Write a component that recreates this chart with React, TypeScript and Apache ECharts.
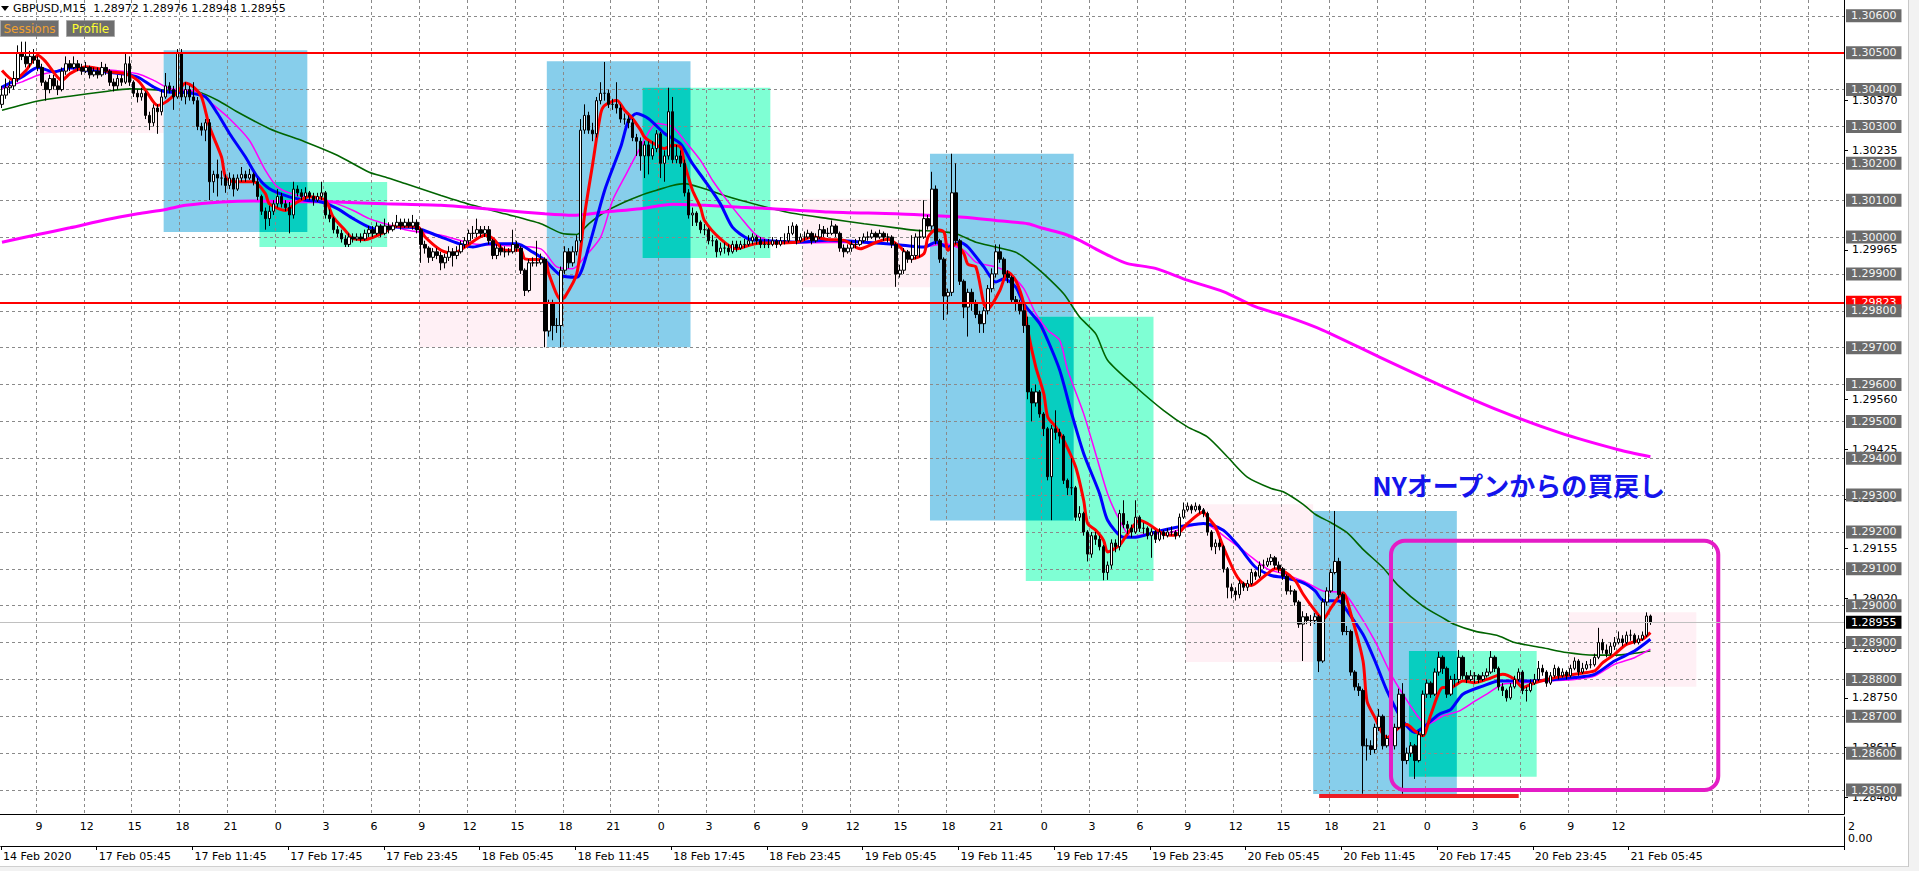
import React, { useEffect, useRef } from "react";
import * as echarts from "echarts";

// ---------- data ----------
const symbolName = "GBPUSD,M15";
const firstOpenPts = 130360;
// M15 bars, prices in points (1e-5)
const closePts = [
  130385,130405,130410,130430,130500,130490,130470,130490,130480,130460,
  130420,130400,130430,130410,130400,130450,130470,130460,130470,130460,
  130450,130460,130440,130450,130440,130460,130450,130420,130410,130430,
  130420,130470,130420,130390,130380,130390,130330,130310,130350,130340,
  130380,130410,130400,130380,130500,130380,130400,130380,130370,130300,
  130290,130310,130150,130170,130160,130160,130140,130160,130130,130160,
  130170,130160,130170,130150,130110,130070,130050,130070,130090,130110,
  130090,130080,130060,130130,130120,130110,130120,130110,130100,130110,
  130120,130060,130050,130020,130010,129995,129980,130000,129995,130000,
  129995,130010,130020,130010,130030,130010,130030,130020,130030,130040,
  130030,130040,130030,130040,130020,129980,129970,129945,129960,129950,
  129930,129945,129960,129950,129960,129980,129990,130010,130010,130020,
  130010,130020,129990,129950,129970,129960,129960,129960,129980,129970,
  129910,129855,129930,129930,129930,129940,129745,129820,129760,129760,
  129910,129960,129930,129960,129990,130290,130330,130290,130280,130370,
  130390,130390,130360,130360,130350,130320,130320,130310,130270,130260,
  130220,130250,130220,130240,130280,130200,130220,130340,130210,130220,
  130200,130120,130060,130065,130040,130020,130020,129990,129990,129960,
  129970,129970,129960,129980,129970,129980,129980,129990,130000,129990,
  129980,129980,129980,129990,129980,129990,129990,130010,130030,129990,
  130000,130000,130010,129990,130000,130020,130010,130010,130030,130010,
  129970,129960,129970,129980,129980,129990,130000,130000,130010,130000,
  130010,130000,130000,129980,129900,129910,129960,129940,129950,130000,
  130000,130050,130030,130130,129990,129940,129840,129850,130120,129990,
  129880,129810,129850,129820,129790,129765,129800,129860,129900,129960,
  129940,129900,129890,129830,129820,129800,129760,129580,129550,129580,
  129520,129480,129350,129480,129470,129460,129340,129320,129320,129240,
  129250,129200,129140,129190,129180,129160,129090,129110,129170,129160,
  129250,129220,129210,129200,129240,129210,129210,129190,129200,129180,
  129200,129190,129200,129200,129190,129240,129260,129270,129260,129270,
  129260,129250,129200,129160,129170,129160,129100,129050,129040,129030,
  129060,129050,129060,129090,129080,129110,129110,129120,129130,129110,
  129100,129080,129040,129040,129010,128950,128970,128960,128960,128970,
  128850,129010,129040,129090,129120,129030,128930,128930,128820,128780,
  128770,128620,128620,128610,128670,128700,128620,128640,128620,128670,
  128760,128580,128600,128620,128580,128650,128760,128790,128760,128820,
  128860,128830,128760,128800,128800,128860,128810,128800,128810,128810,
  128800,128810,128820,128860,128830,128780,128770,128750,128780,128800,
  128820,128770,128770,128790,128800,128830,128820,128790,128810,128830,
  128810,128820,128810,128830,128850,128820,128830,128840,128840,128860,
  128900,128880,128870,128890,128900,128910,128900,128920,128920,128900,
  128910,128920,128972,128955,
];
const highPts = [
  130410,130430,130425,130450,130520,130530,130530,130505,130510,130490,
  130470,130425,130440,130440,130425,130460,130490,130480,130490,130480,
  130470,130475,130465,130460,130460,130475,130470,130455,130430,130440,
  130440,130500,130490,130425,130400,130405,130395,130340,130360,130360,
  130400,130445,130420,130410,130510,130510,130420,130410,130420,130380,
  130310,130320,130320,130180,130210,130180,130170,130175,130170,130170,
  130190,130180,130185,130175,130160,130115,130080,130085,130100,130130,
  130120,130100,130095,130150,130140,130130,130135,130125,130120,130120,
  130150,130125,130075,130055,130030,130020,130005,130010,130010,130010,
  130010,130020,130030,130030,130040,130035,130050,130040,130040,130060,
  130050,130050,130050,130060,130048,130025,129990,129975,129970,129970,
  129960,129955,129975,129970,129975,129990,130000,130020,130030,130050,
  130030,130030,130030,129995,129980,129980,129975,129970,130020,129990,
  129975,129915,129940,129945,129990,129955,129945,129830,129830,129780,
  129920,129975,129970,129975,130005,130320,130360,130340,130310,130380,
  130420,130475,130400,130375,130420,130360,130335,130330,130320,130280,
  130270,130260,130260,130260,130290,130285,130235,130405,130380,130250,
  130235,130210,130130,130080,130070,130045,130035,130025,130005,129995,
  129985,129985,129980,129990,129990,129990,129995,130005,130010,130005,
  130000,129995,129995,130000,129995,130000,130010,130030,130040,130035,
  130010,130015,130020,130015,130010,130035,130030,130025,130045,130035,
  130015,129980,129980,129990,129995,130000,130010,130015,130020,130015,
  130020,130015,130010,130005,129985,129925,129970,129965,130005,130010,
  130020,130100,130060,130177,130140,129995,129945,129860,130226,130200,
  129995,129885,129860,129860,129830,129800,129810,129870,129915,129980,
  129980,129945,129910,129895,129840,129830,129820,129784,129590,129600,
  129585,129525,129485,129490,129530,129480,129465,129345,129400,129325,
  129270,129255,129205,129200,129200,129190,129165,129120,129180,129180,
  129260,129286,129230,129220,129286,129245,129225,129215,129210,129205,
  129210,129205,129210,129215,129205,129250,129280,129280,129275,129280,
  129275,129265,129255,129205,129180,129180,129165,129105,129060,129050,
  129070,129065,129070,129100,129095,129120,129125,129130,129140,129135,
  129120,129105,129085,129055,129045,129015,128985,128980,128975,128980,
  128975,129020,129050,129100,129257,129130,129035,128945,128935,128825,
  128790,128775,128640,128635,128680,128720,128705,128650,128645,128680,
  128775,128790,128615,128630,128625,128660,128770,128800,128795,128830,
  128875,128865,128835,128810,128815,128880,128865,128820,128825,128820,
  128815,128820,128830,128877,128865,128835,128790,128775,128790,128810,
  128830,128825,128780,128800,128815,128850,128840,128825,128820,128840,
  128835,128830,128825,128840,128860,128855,128845,128850,128855,128870,
  128940,128910,128895,128900,128915,128930,128920,128930,128935,128925,
  128920,128930,128982,128976,
];
const lowPts = [
  130350,130375,130390,130400,130420,130480,130460,130460,130470,130450,
  130410,130370,130390,130400,130385,130395,130440,130450,130455,130450,
  130440,130445,130430,130435,130430,130435,130440,130410,130395,130400,
  130410,130415,130410,130380,130365,130370,130320,130290,130300,130280,
  130330,130375,130390,130345,130375,130370,130360,130370,130360,130290,
  130275,130260,130100,130120,130110,130140,130120,130130,130110,130125,
  130150,130150,130155,130140,130100,130060,130020,130030,130060,130080,
  130080,130070,130010,130050,130110,130100,130100,130100,130085,130095,
  130100,130050,130040,130010,130000,129985,129973,129973,129985,129990,
  129985,129990,130000,130000,130005,130000,130005,130010,130015,130025,
  130020,130025,130025,130020,130010,129930,129955,129930,129935,129940,
  129910,129915,129935,129920,129940,129955,129970,129980,129995,130000,
  130000,130000,129980,129940,129940,129950,129945,129950,129955,129960,
  129900,129840,129850,129920,129920,129925,129701,129730,129720,129740,
  129701,129900,129915,129920,129950,129985,130280,130280,130260,130270,
  130360,130370,130350,130345,130335,130310,130305,130295,130260,130220,
  130180,130160,130170,130210,130230,130160,130150,130210,130200,130200,
  130190,130110,130050,130030,130030,130010,130005,129980,129975,129945,
  129950,129955,129950,129955,129960,129965,129970,129975,129980,129980,
  129970,129970,129970,129975,129970,129975,129980,129985,130005,129980,
  129985,129990,129995,129980,129985,129995,130000,130000,130005,130000,
  129960,129945,129955,129960,129970,129975,129985,129990,129995,129990,
  129995,129990,129985,129970,129865,129890,129900,129930,129930,129940,
  129945,129995,130020,130020,129980,129930,129775,129790,129840,129980,
  129870,129780,129730,129800,129780,129740,129740,129790,129850,129890,
  129930,129890,129875,129820,129800,129790,129740,129560,129500,129540,
  129510,129460,129340,129232,129450,129440,129330,129300,129300,129230,
  129230,129190,129120,129130,129165,129150,129069,129070,129100,129145,
  129150,129210,129195,129185,129195,129200,129195,129180,129130,129170,
  129175,129180,129185,129190,129180,129185,129235,129255,129250,129255,
  129250,129240,129190,129150,129140,129150,129090,129020,129020,129014,
  129020,129040,129040,129055,129070,129075,129100,129105,129110,129100,
  129090,129070,129030,129030,129000,128940,128850,128950,128945,128950,
  128820,128845,129000,129035,129085,129020,128920,128920,128810,128770,
  128755,128490,128580,128595,128600,128660,128610,128615,128605,128610,
  128665,128490,128570,128590,128530,128575,128645,128750,128750,128755,
  128810,128815,128750,128755,128780,128790,128800,128790,128795,128790,
  128790,128795,128805,128815,128820,128770,128755,128740,128745,128775,
  128795,128760,128740,128765,128785,128795,128810,128780,128785,128805,
  128800,128805,128800,128805,128825,128810,128815,128825,128830,128835,
  128855,128870,128860,128865,128880,128895,128890,128895,128905,128895,
  128895,128905,128915,128948,
];

// moving averages: [bar index, price]
const maFastRed = [
  [0,1.30452],[3,1.30425],[6,1.30452],[9,1.30493],[11,1.30475],[15,1.30425],[17,1.30443],[21,1.30462],[24,1.30457],[27,1.30448],
  [31,1.30443],[34,1.30425],[36,1.30398],[39,1.30357],[41,1.30366],[44,1.30394],[46,1.30418],[48,1.30407],[50,1.3038],[52,1.30299],
  [55,1.30217],[56,1.30163],[58,1.3015],[61,1.3015],[63,1.3015],[66,1.30118],[67,1.3009],[71,1.30072],[74,1.30095],[77,1.30109],
  [81,1.301],[83,1.30054],[86,1.30018],[88,1.29995],[91,1.29993],[96,1.30014],[98,1.30029],[104,1.30029],[106,1.3],[110,1.29964],
  [113,1.29955],[116,1.29973],[121,1.30005],[123,1.29996],[126,1.29964],[130,1.29964],[131,1.29941],[136,1.29937],[137,1.299],[140,1.2983],
  [141,1.29837],[144,1.299],[146,1.30063],[148,1.30199],[150,1.30335],[151,1.30357],[154,1.30371],[156,1.30344],[158,1.30321],[160,1.3029],
  [161,1.30271],[164,1.30249],[166,1.3024],[168,1.30249],[170,1.30244],[171,1.30199],[173,1.30127],[175,1.30081],[176,1.30045],[180,1.29995],
  [184,1.29968],[187,1.29977],[190,1.29984],[193,1.29984],[199,1.29986],[203,1.3],[207,1.29993],[211,1.29991],[215,1.29968],[219,1.29986],
  [222,1.29994],[225,1.29973],[228,1.29941],[231,1.29955],[232,1.3],[234,1.3002],[236,1.30014],[237,1.29964],[239,1.29982],[241,1.29955],
  [242,1.29926],[244,1.29919],[246,1.29819],[247,1.29805],[250,1.29855],[252,1.29905],[254,1.29882],[256,1.29819],[257,1.29747],[259,1.29648],
  [261,1.29576],[262,1.29512],[264,1.29485],[266,1.29449],[269,1.29376],[271,1.29286],[272,1.29223],[274,1.29205],[276,1.29177],[277,1.29146],
  [280,1.29164],[282,1.29195],[285,1.29232],[287,1.29223],[291,1.29195],[294,1.29191],[297,1.29223],[301,1.29254],[302,1.29241],[304,1.29214],
  [306,1.29159],[309,1.29087],[311,1.2906],[313,1.29055],[316,1.29078],[319,1.291],[321,1.29095],[324,1.29068],[326,1.29031],[329,1.28986],
  [331,1.28963],[333,1.28995],[336,1.29035],[338,1.28976],[341,1.2885],[342,1.28741],[344,1.28696],[346,1.28651],[347,1.28642],[350,1.28669],
  [352,1.28678],[354,1.2866],[356,1.28647],[358,1.28705],[361,1.28778],[363,1.28778],[366,1.28796],[369,1.28791],[372,1.288],[376,1.28814],
  [379,1.288],[381,1.28778],[384,1.28791],[387,1.288],[391,1.28809],[394,1.28814],[399,1.28823],[401,1.28845],[404,1.28868],[407,1.28895],
  [411,1.28909],[413,1.28927],
];
const maBlue = [
  [0,1.30407],[5,1.30434],[9,1.3046],[13,1.30448],[17,1.30459],[21,1.30452],[26,1.30448],[30,1.30443],[34,1.30434],[38,1.30407],
  [41,1.30394],[46,1.30392],[48,1.30389],[51,1.3038],[54,1.30335],[57,1.30281],[61,1.30217],[64,1.30163],[67,1.30131],[72,1.30109],
  [76,1.301],[80,1.30095],[84,1.30077],[88,1.3005],[92,1.30027],[96,1.30018],[98,1.30027],[104,1.30024],[110,1.3],[118,1.29973],
  [122,1.29982],[129,1.29982],[133,1.29959],[136,1.29937],[140,1.29896],[144,1.29891],[147,1.29973],[151,1.30127],[155,1.30244],[157,1.30317],
  [159,1.30335],[162,1.30321],[166,1.30281],[170,1.30253],[173,1.30199],[176,1.30154],[180,1.3009],[183,1.30027],[187,1.29995],[193,1.29989],
  [199,1.29986],[207,1.29991],[216,1.29986],[224,1.2998],[231,1.29973],[234,1.29986],[237,1.29973],[240,1.29986],[242,1.29973],[246,1.29919],
  [249,1.29878],[251,1.29887],[254,1.29864],[256,1.29819],[260,1.29765],[262,1.2972],[265,1.29639],[268,1.29521],[271,1.29413],[275,1.29304],
  [277,1.29232],[281,1.29186],[284,1.29186],[289,1.292],[294,1.29212],[297,1.29218],[301,1.29223],[306,1.29205],[310,1.29159],[314,1.29105],
  [318,1.29082],[321,1.29077],[326,1.29062],[329,1.2904],[331,1.29014],[335,1.29013],[337,1.28986],[341,1.28922],[344,1.2885],[347,1.28769],
  [351,1.28687],[354,1.28656],[356,1.28669],[360,1.28705],[363,1.28719],[366,1.2876],[371,1.28782],[375,1.28796],[379,1.28796],[384,1.28796],
  [389,1.288],[394,1.28805],[399,1.28814],[404,1.2885],[409,1.28877],[413,1.28909],
];
const maThinMagenta = [
  [0,1.30403],[5,1.30421],[9,1.30439],[13,1.30448],[17,1.30457],[26,1.30454],[34,1.30443],[38,1.30425],[42,1.30403],[49,1.30394],
  [52,1.30367],[57,1.30321],[62,1.30262],[66,1.30181],[69,1.30136],[74,1.30113],[80,1.30104],[84,1.3009],[88,1.30072],[92,1.3005],
  [96,1.30036],[101,1.3002],[110,1.30005],[118,1.29982],[126,1.29977],[135,1.29968],[139,1.29919],[143,1.29914],[146,1.29946],[150,1.3],
  [153,1.301],[156,1.30163],[160,1.30244],[164,1.30308],[168,1.30299],[171,1.30262],[175,1.30208],[178,1.30154],[181,1.30109],[185,1.30054],
  [189,1.30005],[193,1.29989],[199,1.29984],[216,1.29986],[231,1.29973],[236,1.29982],[241,1.29964],[244,1.29932],[249,1.29919],[252,1.29905],
  [256,1.2986],[259,1.29792],[262,1.29747],[265,1.2972],[267,1.29639],[271,1.29521],[274,1.29413],[277,1.29304],[280,1.29232],[283,1.29186],
  [287,1.29195],[291,1.29195],[297,1.29214],[301,1.29223],[307,1.29182],[312,1.29141],[317,1.291],[321,1.29087],[326,1.29067],[331,1.2904],
  [336,1.29035],[339,1.28995],[344,1.28904],[348,1.28814],[351,1.2876],[355,1.28696],[357,1.28678],[361,1.28701],[365,1.28714],[369,1.28741],
  [372,1.2876],[376,1.28787],[381,1.28791],[387,1.28796],[394,1.288],[399,1.28809],[404,1.28841],[409,1.28859],[413,1.28882],
];
const maGreen = [
  [0,1.30344],[9,1.30369],[17,1.30382],[26,1.30395],[32,1.30402],[41,1.30398],[49,1.30394],[54,1.30371],[59,1.30339],[67,1.30294],
  [76,1.30258],[84,1.30222],[92,1.30176],[96,1.30163],[101,1.30145],[110,1.30113],[118,1.30086],[126,1.30063],[135,1.30036],[140,1.30011],
  [144,1.30007],[147,1.30036],[151,1.30068],[156,1.30095],[160,1.30113],[164,1.30127],[168,1.3014],[171,1.30145],[176,1.30131],[181,1.30113],
  [185,1.301],[193,1.30077],[199,1.30063],[207,1.3005],[216,1.30036],[224,1.30025],[229,1.30018],[234,1.30016],[239,1.30009],[244,1.29986],
  [249,1.29973],[254,1.29959],[257,1.29937],[261,1.299],[266,1.29846],[270,1.29783],[274,1.29738],[277,1.29666],[284,1.29594],[291,1.2953],
  [297,1.29485],[302,1.29458],[307,1.29404],[312,1.29349],[318,1.29318],[321,1.29309],[326,1.29275],[329,1.29248],[333,1.29225],[337,1.29198],
  [341,1.29153],[346,1.29103],[350,1.29053],[356,1.28999],[361,1.28967],[364,1.28949],[369,1.28931],[375,1.28918],[379,1.289],[386,1.28886],
  [392,1.28873],[399,1.28866],[404,1.28866],[409,1.28871],[413,1.28877],
];
const maSlowMagenta = [
  [0,1.29986],[9,1.30007],[17,1.30025],[26,1.30047],[34,1.30063],[41,1.30075],[46,1.30086],[55,1.30095],[63,1.30098],[76,1.30096],
  [84,1.30095],[96,1.3009],[110,1.30086],[126,1.30072],[136,1.30063],[143,1.30059],[151,1.30068],[160,1.30077],[168,1.30089],[176,1.30086],
  [185,1.30081],[193,1.30077],[207,1.30068],[224,1.30063],[232,1.30059],[241,1.30054],[249,1.30045],[257,1.30036],[261,1.30023],[266,1.30009],
  [270,1.29991],[274,1.29968],[278,1.29946],[282,1.29928],[289,1.29915],[297,1.29883],[306,1.29852],[314,1.29811],[322,1.29784],[331,1.29747],
  [345,1.29675],[360,1.296],[375,1.2953],[390,1.2947],[405,1.29423],[413,1.29404],
];

// session rectangles: [first bar, last bar, high, low]
const tokyoSessions = [[9,40,1.305,1.30282],[105,136,1.30048,1.29701],[201,232,1.30104,1.29864],[297,328,1.29275,1.28847],[393,424,1.28982,1.2878]];
const londonSessions = [[41,76,1.30507,1.30014],[137,172,1.30477,1.29701],[233,268,1.30226,1.29231],[329,364,1.29257,1.28489]];
const newYorkSessions = [[65,96,1.30149,1.29973],[161,192,1.30405,1.29943],[257,288,1.29784,1.29067],[353,384,1.28877,1.28536]];

// horizontal levels and labels
const levelLines = [1.285,1.286,1.287,1.288,1.289,1.29,1.291,1.292,1.293,1.294,1.295,1.296,1.297,1.298,1.299,1.3,1.301,1.302,1.303,1.304,1.305,1.306];
const scaleTicks = [1.2848,1.28615,1.2875,1.28885,1.2902,1.29155,1.2929,1.29425,1.2956,1.29965,1.30235,1.3037];
const resistanceLevel = 1.305;
const supportLevel = 1.29823;
const lowLine = [[330, 1.28484], [380, 1.28484]];
const highlightBox = [348, 430, 1.29176, 1.285];
const noteText = "NYオープンからの買戻し";
const notePos = [380, 1.2933];

const dateLabels = ["14 Feb 2020","17 Feb 05:45","17 Feb 11:45","17 Feb 17:45","17 Feb 23:45","18 Feb 05:45","18 Feb 11:45","18 Feb 17:45","18 Feb 23:45","19 Feb 05:45","19 Feb 11:45","19 Feb 17:45","19 Feb 23:45","20 Feb 05:45","20 Feb 11:45","20 Feb 17:45","20 Feb 23:45","21 Feb 05:45"];
const hourLabels = [9,12,15,18,21,0,3,6,9,12,15,18,21,0,3,6,9,12,15,18,21,0,3,6,9,12,15,18,21,0,3,6,9,12];
const totalSlots = 462;
const Y_MIN = 1.28435;
const Y_MAX = 1.30643;

const FONT = "DejaVu Sans";

export default function App() {
  const ref = useRef<HTMLDivElement>(null);
  useEffect(() => {
    const el = ref.current;
    if (!el) return;
    const chart = echarts.init(el, null, { renderer: "svg" });

    const n = Math.min(closePts.length, highPts.length, lowPts.length);
    const candles: number[][] = [];
    for (let i = 0; i < n; i++) {
      const o = i === 0 ? firstOpenPts : closePts[i - 1];
      candles.push([o / 1e5, closePts[i] / 1e5, lowPts[i] / 1e5, highPts[i] / 1e5]);
    }
    const last = candles[candles.length - 1];
    const lastPrice = last[1];
    const fmt = (v: number) => v.toFixed(5);
    const xData = Array.from({ length: totalSlots }, (_, i) => String(i));

    const overlaps = londonSessions.map((b, k) => {
      const a = newYorkSessions[k];
      return [a[0], b[1], Math.min(a[2], b[2]), Math.max(a[3], b[3])];
    });
    const boxColors = ["#FFF0F5", "#87CEEB", "#7FFFD4", "#07CEC0"];
    const boxData = [
      ...tokyoSessions.map((s) => [...s, 0]),
      ...londonSessions.map((s) => [...s, 1]),
      ...newYorkSessions.map((s) => [...s, 2]),
      ...overlaps.map((s) => [...s, 3]),
    ];

    const dashed = { color: "#8a8a8a", type: [3, 3], width: 1 };
    const maLine = (data: number[][], color: string, width: number, z = 2) => ({
      type: "line",
      xAxisIndex: 0,
      yAxisIndex: 0,
      data,
      showSymbol: false,
      symbol: "none",
      smooth: 0.25,
      silent: true,
      z,
      lineStyle: { color, width },
    });
    const priceTag = (bg: string, text: string) => ({
      show: true, position: "end", distance: 2, formatter: text,
      color: "#fff", backgroundColor: bg, padding: [0, 5, 0, 5], lineHeight: 13,
      fontFamily: FONT, fontSize: 11,
    });

    const option: any = {
      animation: false,
      backgroundColor: "#ffffff",
      title: {
        text: `${symbolName}  ${fmt(last[0])} ${fmt(last[3])} ${fmt(last[2])} ${fmt(last[1])}`,
        left: 13,
        top: 3,
        padding: 0,
        textStyle: { fontFamily: FONT, fontSize: 11, fontWeight: "normal", color: "#000" },
      },
      grid: [
        { left: -4, top: 0, width: 1848, height: 814 },
        { left: -4, top: 817, width: 1848, height: 29 },
      ],
      xAxis: [
        {
          type: "category",
          gridIndex: 0,
          data: xData,
          boundaryGap: true,
          axisLine: { show: true, lineStyle: { color: "#000", width: 1 } },
          axisTick: { show: false },
          axisLabel: { show: false },
          splitLine: { show: true, interval: (i: number) => i % 12 === 9, lineStyle: dashed },
        },
        {
          type: "category",
          gridIndex: 1,
          position: "top",
          data: xData,
          boundaryGap: true,
          axisLine: { show: true, lineStyle: { color: "#000", width: 1 } },
          axisTick: { show: false },
          axisLabel: {
            show: true,
            inside: true,
            margin: 4,
            interval: (i: number) => i % 12 === 9 && (i - 9) / 12 < hourLabels.length,
            formatter: (_v: string, i: number) => String(hourLabels[(i - 9) / 12]),
            fontFamily: FONT,
            fontSize: 11,
            color: "#000",
          },
          splitLine: { show: false },
        },
        {
          type: "category",
          gridIndex: 1,
          position: "bottom",
          data: xData,
          boundaryGap: true,
          axisLine: { show: true, lineStyle: { color: "#000", width: 1 } },
          axisTick: {
            show: true,
            length: 4,
            interval: (i: number) => i % 24 === 0 && i / 24 < dateLabels.length,
            lineStyle: { color: "#000" },
          },
          axisLabel: {
            show: true,
            margin: 5,
            align: "left",
            interval: (i: number) => i % 24 === 0 && i / 24 < dateLabels.length,
            formatter: (_v: string, i: number) => dateLabels[i / 24],
            fontFamily: FONT,
            fontSize: 11,
            color: "#000",
          },
          splitLine: { show: false },
        },
      ],
      yAxis: [
        {
          type: "value",
          gridIndex: 0,
          position: "right",
          min: Y_MIN,
          max: Y_MAX,
          z: 0,
          axisLine: { show: true, onZero: false, lineStyle: { color: "#000", width: 1 } },
          axisTick: { show: false, customValues: levelLines },
          axisLabel: { show: false, customValues: levelLines },
          splitLine: { show: true, lineStyle: dashed },
        },
        {
          type: "value",
          gridIndex: 0,
          position: "right",
          min: Y_MIN,
          max: Y_MAX,
          z: 1,
          axisLine: { show: false },
          axisTick: { show: true, length: 4, customValues: scaleTicks, lineStyle: { color: "#000" } },
          axisLabel: {
            show: true,
            customValues: scaleTicks,
            formatter: (v: number) => fmt(v),
            margin: 8,
            fontFamily: FONT,
            fontSize: 11,
            color: "#000",
          },
          splitLine: { show: false },
        },
        {
          type: "value",
          gridIndex: 0,
          position: "right",
          min: Y_MIN,
          max: Y_MAX,
          z: 6,
          axisLine: { show: false },
          axisTick: { show: false, customValues: levelLines },
          axisLabel: {
            show: true,
            customValues: levelLines,
            formatter: (v: number) => fmt(v),
            margin: 2,
            fontFamily: FONT,
            fontSize: 11,
            lineHeight: 13,
            color: "#f4f4f4",
            backgroundColor: "#6b6b6b",
            padding: [0, 5, 0, 5],
          },
          splitLine: { show: false },
        },
        {
          type: "value",
          gridIndex: 1,
          position: "right",
          min: 0,
          max: 2,
          axisLine: { show: true, lineStyle: { color: "#000", width: 1 } },
          axisTick: { show: false },
          axisLabel: { show: false },
          splitLine: { show: false },
        },
      ],
      series: [
        {
          type: "custom",
          name: "sessions",
          xAxisIndex: 0,
          yAxisIndex: 0,
          z: -1,
          silent: true,
          data: boxData,
          encode: { x: [0, 1], y: [2, 3] },
          renderItem: (_p: any, api: any) => {
            const a = api.coord([api.value(0), api.value(2)]);
            const b = api.coord([api.value(1), api.value(3)]);
            const w = api.size([1, 0])[0];
            return {
              type: "rect",
              shape: { x: a[0] - w / 2, y: a[1], width: b[0] - a[0] + w, height: b[1] - a[1] },
              style: { fill: boxColors[api.value(4)] },
            };
          },
        },
        {
          type: "candlestick",
          name: symbolName,
          xAxisIndex: 0,
          yAxisIndex: 0,
          data: candles,
          barWidth: 3,
          silent: true,
          itemStyle: { color: "#ffffff", color0: "#000000", borderColor: "#000000", borderColor0: "#000000", borderWidth: 1 },
          markLine: {
            symbol: ["none", "none"],
            silent: true,
            animation: false,
            precision: 5,
            data: [
              { yAxis: resistanceLevel, lineStyle: { color: "#ff0000", width: 2, type: "solid" }, label: { show: false } },
              { yAxis: supportLevel, lineStyle: { color: "#ff0000", width: 2, type: "solid" }, label: priceTag("#ff0000", fmt(supportLevel)) },
              { yAxis: lastPrice, lineStyle: { color: "#c0c0c0", width: 1, type: "solid" }, label: priceTag("#000000", fmt(lastPrice)) },
            ],
          },
        },
        maLine(maGreen, "#006400", 1.6),
        maLine(maSlowMagenta, "#ff00ff", 3),
        maLine(maThinMagenta, "#ff00ff", 1.5),
        maLine(maBlue, "#0000ff", 3),
        maLine(maFastRed, "#ff0000", 3),
        {
          type: "line",
          xAxisIndex: 0,
          yAxisIndex: 0,
          data: lowLine,
          symbol: "none",
          silent: true,
          lineStyle: { color: "#ee1d24", width: 4 },
          z: 4,
        },
        {
          type: "custom",
          xAxisIndex: 0,
          yAxisIndex: 0,
          silent: true,
          z: 4,
          data: [highlightBox],
          encode: { x: [0, 1], y: [2, 3] },
          renderItem: (_p: any, api: any) => {
            const a = api.coord([api.value(0), api.value(2)]);
            const b = api.coord([api.value(1), api.value(3)]);
            return {
              type: "rect",
              shape: { x: a[0], y: a[1], width: b[0] - a[0], height: b[1] - a[1], r: 14 },
              style: { fill: "none", stroke: "#e41cc6", lineWidth: 4 },
            };
          },
        },
        {
          type: "custom",
          xAxisIndex: 0,
          yAxisIndex: 0,
          silent: true,
          z: 5,
          data: [notePos],
          encode: { x: 0, y: 1 },
          renderItem: (_p: any, api: any) => {
            const c = api.coord([api.value(0), api.value(1)]);
            return {
              type: "text",
              x: c[0],
              y: c[1],
              style: {
                text: noteText,
                fill: "#1414ec",
                fontFamily: "Noto Sans CJK JP",
                fontWeight: "bold",
                fontSize: 26,
                align: "center",
                verticalAlign: "middle",
              },
            };
          },
        },
      ],
      graphic: [
        { type: "polygon", shape: { points: [[1, 6], [9, 6], [5, 11]] }, style: { fill: "#000" }, silent: true },
        {
          type: "group",
          left: 0,
          top: 20,
          children: [
            { type: "rect", shape: { x: 0, y: 0, width: 58, height: 16 }, style: { fill: "#6e6e6e", stroke: "#a8a8a8", lineWidth: 1 } },
            { type: "text", style: { text: "Sessions", x: 29, y: 8, align: "center", verticalAlign: "middle", fill: "#f0a030", fontFamily: FONT, fontSize: 12 } },
            { type: "rect", shape: { x: 66, y: 0, width: 48, height: 16 }, style: { fill: "#6e6e6e", stroke: "#a8a8a8", lineWidth: 1 } },
            { type: "text", style: { text: "Profile", x: 90, y: 8, align: "center", verticalAlign: "middle", fill: "#ffff30", fontFamily: FONT, fontSize: 12 } },
          ],
        },
        { type: "text", style: { text: "2", x: 1848, y: 826, verticalAlign: "middle", fill: "#000", fontFamily: FONT, fontSize: 11 } },
        { type: "text", style: { text: "0.00", x: 1848, y: 838, verticalAlign: "middle", fill: "#000", fontFamily: FONT, fontSize: 11 } },
        { type: "rect", shape: { x: 1908, y: 0, width: 11, height: 871 }, style: { fill: "#f2f2f2" }, silent: true },
        { type: "line", shape: { x1: 1908.5, y1: 0, x2: 1908.5, y2: 871 }, style: { stroke: "#c8c8c8", lineWidth: 1 }, silent: true },
        { type: "rect", shape: { x: 0, y: 867, width: 1919, height: 4 }, style: { fill: "#f2f2f2" }, silent: true },
        { type: "line", shape: { x1: 0, y1: 866.5, x2: 1908, y2: 866.5 }, style: { stroke: "#d0d0d0", lineWidth: 1 }, silent: true },
      ],
    };

    chart.setOption(option);
    return () => chart.dispose();
  }, []);

  return (
    <div
      ref={ref}
      style={{ position: "fixed", left: 0, top: 0, width: 1919, height: 871, background: "#fff" }}
    />
  );
}
